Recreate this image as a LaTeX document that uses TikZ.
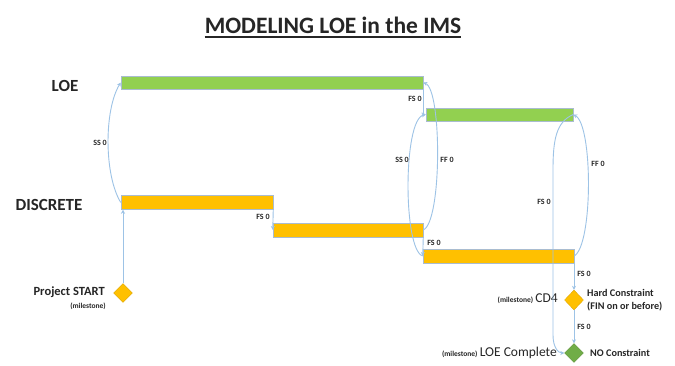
\documentclass[tikz,border=0pt]{standalone}
\usepackage{fontspec}
\setmainfont{Carlito}
\usetikzlibrary{shapes.geometric,arrows.meta}
\definecolor{bargreen}{HTML}{92D050}
\definecolor{barorange}{HTML}{FFC000}
\definecolor{msgreen}{HTML}{70AD47}
\definecolor{linkblue}{HTML}{9DC3E6}
\definecolor{barline}{HTML}{A9BCD0}
\definecolor{txt}{HTML}{262626}
\begin{document}
\begin{tikzpicture}[x=1pt,y=-1pt,
  bar/.style={draw=barline,line width=0.5pt,inner sep=0pt,minimum height=14pt},
  loebar/.style={bar,fill=bargreen,minimum height=13pt},
  dbar/.style={bar,fill=barorange},
  ms/.style={diamond,inner sep=0pt,minimum width=19pt,minimum height=19pt,draw=#1!85!black,line width=0.3pt,fill=#1},
  link/.style={draw=linkblue,line width=0.9pt,-{Stealth[length=4pt,width=4pt]}},
  lbl/.style={font=\fontsize{8}{9}\selectfont\bfseries,text=txt,inner sep=0pt},
  row/.style={font=\fontsize{17}{20}\selectfont\bfseries,text=txt,inner sep=0pt},
  side/.style={font=\fontsize{10.2}{13.5}\selectfont\bfseries,text=txt,inner sep=0pt,anchor=west,align=left}
  ]
\useasboundingbox (0,0) rectangle (675,366);
\fill[white] (0,0) rectangle (675,366);

% title
\node[font=\fontsize{23.5}{28}\selectfont\bfseries,text=txt,inner sep=0pt,anchor=base] (title) at (333,34) {MODELING LOE in the IMS};
\draw[txt,line width=1.6pt] ([yshift=-3pt]title.base west) -- ([yshift=-3pt]title.base east);

% row labels
\node[row] (loelbl) at (65,86) {LOE};
\node[row] (dlbl) at (49,205) {DISCRETE};

% bars
\node[loebar,minimum width=302pt] (loeA) at (272,82.5) {};
\node[loebar,minimum width=147pt] (loeB) at (499.5,114.5) {};
\node[dbar,minimum width=152pt] (dA) at (197,202.5) {};
\node[dbar,minimum width=150pt] (dB) at (348,230) {};
\node[dbar,minimum width=151pt] (dC) at (498.5,256) {};

% milestones
\node[ms=barorange] (start) at (123,293) {};
\node[ms=barorange,minimum height=20pt] (cd4) at (574,300) {};
\node[ms=msgreen] (loec) at (574,353) {};

% milestone texts
\node[font=\fontsize{12.5}{14}\selectfont\bfseries,text=txt,anchor=east,inner sep=0pt] (startlbl) at (105,292) {Project START};
\node[font=\fontsize{7.5}{9}\selectfont\bfseries,text=txt,anchor=east,inner sep=0pt] (startms) at (106,306) {(milestone)};
\node[anchor=east,inner sep=0pt,text=txt] (cd4lbl) at (558,299) {{\fontsize{7.5}{9}\selectfont\bfseries (milestone)} {\fontsize{13.5}{15}\selectfont CD4}};
\node[anchor=east,inner sep=0pt,text=txt] (loeclbl) at (557,353) {{\fontsize{7.5}{9}\selectfont\bfseries (milestone)} {\fontsize{13.5}{15}\selectfont LOE Complete}};
\node[side] (hard) at (587,300) {Hard Constraint\\(FIN on or before)};
\node[side] (nocon) at (590,353) {NO Constraint};

% links
\draw[link] (dA.west) .. controls (104,175) and (104,110) .. (loeA.west);
\draw[link] (start.north) -- (start.north |- dA.south);
\draw[link] (dA.south east) -- (dB.west);
\draw[link] (loeA.south east) |- (loeB.west);
\draw[link] (dB.south east) -- (dC.west);
\draw[link] (dC.west) .. controls (403,250) and (403,120) .. (loeB.west);
\draw[link] (dB.east) .. controls (442,222) and (442,90) .. (loeA.east);
\draw[link] (dC.east) .. controls (593,245) and (593,125) .. (loeB.east);
\draw[link] (loeB.east) .. controls (556,122) and (553,140) .. (553,170) -- (553,335) .. controls (553,347) and (558,353) .. (loec.west);
\draw[link] (dC.south -| cd4.north) -- (cd4.north);
\draw[link] (cd4.south) -- (loec.north);

% link labels
\node[lbl] (ss1) at (100,143) {SS 0};
\node[lbl] (fs1) at (263,217) {FS 0};
\node[lbl] (fs2) at (415,99) {FS 0};
\node[lbl] (ss2) at (402,160) {SS 0};
\node[lbl] (ff1) at (447,160) {FF 0};
\node[lbl] (ff2) at (598,164) {FF 0};
\node[lbl] (fs3) at (544,202) {FS 0};
\node[lbl] (fs4) at (434,243) {FS 0};
\node[lbl] (fs5) at (584,274) {FS 0};
\node[lbl] (fs6) at (584,327) {FS 0};
\end{tikzpicture}
\end{document}
